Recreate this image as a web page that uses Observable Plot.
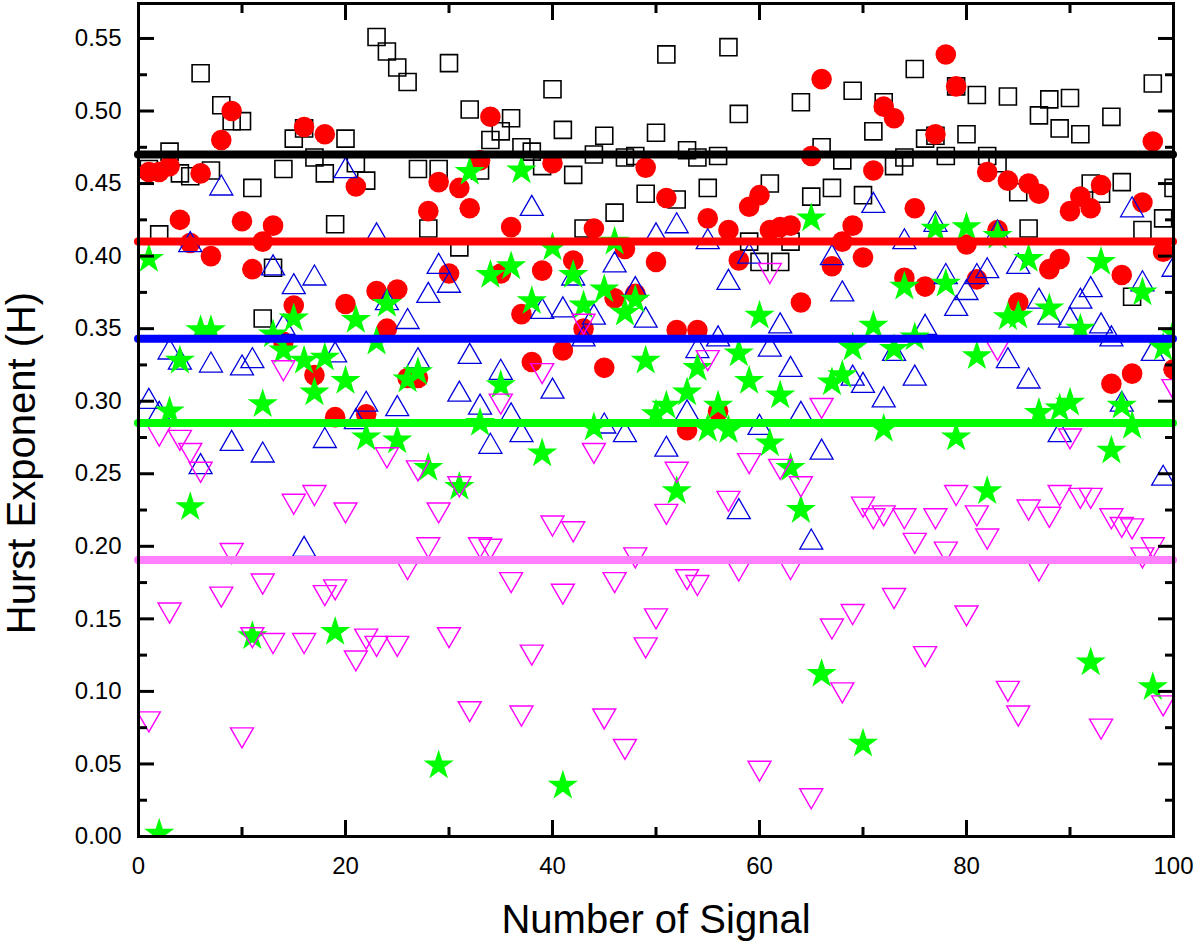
<!DOCTYPE html>
<html><head><meta charset="utf-8">
<script src="https://cdn.jsdelivr.net/npm/d3@7"></script>
<script src="https://cdn.jsdelivr.net/npm/@observablehq/plot@0.6"></script>
<style>body{margin:0;background:#fff}#chart{width:1200px;height:952px}</style>
</head><body><div id="chart"></div>
<script>
const signalIndex = d3.range(1, 101);
const squareH = [0.460,0.415,0.472,0.457,0.455,0.526,0.459,0.504,0.493,0.493,
 0.447,0.357,0.392,0.460,0.481,0.488,0.468,0.457,0.422,0.481,
 0.464,0.452,0.551,0.541,0.530,0.520,0.460,0.419,0.460,0.533,
 0.406,0.501,0.459,0.480,0.486,0.495,0.475,0.472,0.462,0.515,
 0.487,0.456,0.419,0.470,0.483,0.430,0.468,0.469,0.443,0.485,
 0.539,0.439,0.473,0.468,0.447,0.469,0.544,0.498,0.410,0.396,
 0.450,0.396,0.410,0.506,0.441,0.475,0.447,0.466,0.514,0.442,
 0.486,0.506,0.462,0.468,0.529,0.481,0.483,0.469,0.517,0.484,
 0.511,0.469,0.464,0.510,0.444,0.419,0.497,0.508,0.488,0.509,
 0.484,0.450,0.443,0.496,0.451,0.372,0.418,0.519,0.426,0.447];
const circleH = [0.458,0.458,0.462,0.425,0.409,0.457,0.400,0.480,0.500,0.424,
 0.391,0.410,0.421,0.341,0.366,0.489,0.318,0.484,0.289,0.367,
 0.448,0.291,0.376,0.350,0.377,0.316,0.316,0.431,0.451,0.388,
 0.447,0.433,0.466,0.496,0.388,0.420,0.360,0.327,0.390,0.464,
 0.335,0.397,0.350,0.419,0.323,0.371,0.405,0.374,0.461,0.396,
 0.440,0.349,0.280,0.349,0.426,0.293,0.418,0.397,0.434,0.442,
 0.418,0.420,0.421,0.368,0.469,0.522,0.393,0.410,0.421,0.399,
 0.459,0.503,0.495,0.385,0.433,0.379,0.484,0.539,0.517,0.408,
 0.384,0.458,0.418,0.452,0.368,0.450,0.443,0.391,0.398,0.431,
 0.441,0.433,0.449,0.312,0.387,0.319,0.437,0.479,0.403,0.322];
const triUpH = [0.302,0.293,0.336,0.329,0.410,0.257,0.327,0.449,0.273,0.325,
 0.330,0.265,0.394,0.353,0.381,0.200,0.387,0.275,0.334,0.461,
 0.288,0.300,0.416,0.370,0.297,0.357,0.330,0.375,0.395,0.382,
 0.307,0.333,0.298,0.271,0.322,0.292,0.279,0.435,0.364,0.309,
 0.365,0.387,0.345,0.360,0.285,0.396,0.279,0.379,0.358,0.416,
 0.269,0.423,0.294,0.337,0.412,0.345,0.384,0.226,0.402,0.284,
 0.338,0.354,0.324,0.293,0.205,0.267,0.401,0.376,0.318,0.313,
 0.437,0.303,0.335,0.412,0.318,0.353,0.424,0.388,0.366,0.377,
 0.388,0.392,0.418,0.330,0.395,0.316,0.371,0.360,0.279,0.358,
 0.371,0.379,0.354,0.345,0.300,0.434,0.383,0.335,0.249,0.393];
const starH = [0.398,0.002,0.293,0.328,0.227,0.349,0.349,null,null,null,
 0.138,0.298,0.346,0.335,0.357,0.328,0.306,0.330,0.141,0.314,
 0.356,0.275,0.341,0.367,0.273,0.315,0.320,0.254,0.049,null,
 0.241,0.458,0.285,0.387,0.311,0.393,0.459,0.369,0.264,0.406,
 0.035,0.387,0.366,0.282,0.377,0.410,0.361,0.370,0.328,0.291,
 0.297,0.238,0.306,0.323,0.281,0.297,0.280,0.333,0.314,0.359,
 0.271,0.304,0.254,0.225,0.426,0.112,0.313,0.318,0.337,0.064,
 0.352,0.281,0.336,0.379,0.344,null,0.419,0.381,0.275,0.420,
 0.331,0.238,0.414,0.358,0.359,0.398,0.292,0.364,0.295,0.299,
 0.350,0.120,0.396,0.266,0.297,0.283,0.375,0.103,0.337,0.347];
const triDownH = [0.079,0.276,0.154,0.273,0.264,0.251,null,0.165,0.195,0.068,
 0.137,0.174,0.133,0.321,0.229,0.133,0.235,0.166,0.170,0.223,
 0.121,0.136,0.131,0.261,0.131,0.184,0.252,0.199,0.223,0.137,
 0.241,0.086,0.199,0.198,0.298,0.175,0.083,0.125,0.319,0.214,
 0.167,0.210,0.353,0.264,0.081,0.175,0.060,0.192,0.130,0.150,
 0.222,0.251,0.177,0.173,0.328,null,0.231,0.183,0.257,0.045,
 0.388,0.253,0.184,0.241,0.026,0.295,0.143,0.099,0.153,0.227,
 0.219,0.221,0.164,0.219,0.202,0.124,0.219,0.196,0.235,0.152,
 0.221,0.205,0.335,0.100,0.083,0.225,0.183,0.220,0.235,0.274,
 0.233,0.233,0.074,0.219,0.213,0.212,0.192,0.199,0.090,0.308];
const meanLevels = [0.470, 0.410, 0.343, 0.285, 0.1905];
const xMajor = [0, 20, 40, 60, 80, 100];
const xMinor = [10, 30, 50, 70, 90];
const yMajor = [0, 0.05, 0.10, 0.15, 0.20, 0.25, 0.30, 0.35, 0.40, 0.45, 0.50, 0.55];
const yMinor = [0.025, 0.075, 0.125, 0.175, 0.225, 0.275, 0.325, 0.375, 0.425, 0.475, 0.525];
const yTickLabels = ["0.00","0.05","0.10","0.15","0.20","0.25","0.30","0.35","0.40","0.45","0.50","0.55"];
const xTitle = "Number of Signal";
const yTitle = "Hurst Exponent (H)";

const rows = arr => signalIndex.map((x, i) => ({x, h: arr[i]})).filter(d => d.h != null);
const triUp = {draw(ctx, size) { const w = Math.sqrt(size) * 1.526, h = w * 0.87;
  ctx.moveTo(0, -h / 2); ctx.lineTo(w / 2, h / 2); ctx.lineTo(-w / 2, h / 2); ctx.closePath(); }};
const triDown = {draw(ctx, size) { const w = Math.sqrt(size) * 1.526, h = w * 0.87;
  ctx.moveTo(0, h / 2); ctx.lineTo(w / 2, -h / 2); ctx.lineTo(-w / 2, -h / 2); ctx.closePath(); }};
const lineColors = ["#000000", "#ff0000", "#0000ff", "#00ff00", "#ff80ff"];

const tickMarks = [];
for (const a of ["bottom", "top"]) {
  tickMarks.push(Plot.axisX(xMajor, {anchor: a, tickSize: -16, strokeWidth: 3, fill: "none", label: null}));
  tickMarks.push(Plot.axisX(xMinor, {anchor: a, tickSize: -9, strokeWidth: 3, fill: "none", label: null}));
}
for (const a of ["left", "right"]) {
  tickMarks.push(Plot.axisY(yMajor, {anchor: a, tickSize: -16, strokeWidth: 3, fill: "none", label: null}));
  tickMarks.push(Plot.axisY(yMinor, {anchor: a, tickSize: -9, strokeWidth: 3, fill: "none", label: null}));
}

const chart = Plot.plot({
  width: 1200, height: 952,
  marginLeft: 138, marginRight: 27, marginTop: 3, marginBottom: 116,
  style: {fontFamily: "'Liberation Sans', Arial, sans-serif", fontSize: "24px", background: "#fff", color: "#000"},
  x: {domain: [0, 100]},
  y: {domain: [0, 0.5741]},
  marks: [
    Plot.dot(rows(squareH), {x: "x", y: "h", symbol: "square", r: 9.6, stroke: "#000", strokeWidth: 1.6, fill: "none", clip: true}),
    Plot.dot(rows(circleH), {x: "x", y: "h", symbol: "circle", r: 10.3, fill: "#ff0000", stroke: "none", clip: true}),
    Plot.dot(rows(triUpH), {x: "x", y: "h", symbol: triUp, r: 8.5, stroke: "#0000dd", strokeWidth: 1.3, fill: "none", clip: true}),
    Plot.dot(rows(starH), {x: "x", y: "h", symbol: "star", r: 9.5, fill: "#00ff00", stroke: "none", clip: true}),
    Plot.dot(rows(triDownH), {x: "x", y: "h", symbol: triDown, r: 8.5, stroke: "#ff00ff", strokeWidth: 1.4, fill: "none", clip: true}),
    ...meanLevels.map((m, i) => Plot.ruleY([m], {stroke: lineColors[i], strokeWidth: 8, strokeLinecap: "round"})),
    ...tickMarks,
    Plot.axisX(xMajor, {anchor: "bottom", tickSize: 0, tickPadding: 20, fontSize: 24, label: null, tickFormat: d => String(d)}),
    Plot.axisY(yMajor, {anchor: "left", tickSize: 0, tickPadding: 17, fontSize: 24, label: null, tickFormat: (d, i) => yTickLabels[i]}),
    Plot.frame({stroke: "#000", strokeWidth: 3}),
    Plot.text([xTitle], {text: d => d, frameAnchor: "bottom", dy: 96, lineAnchor: "bottom", textAnchor: "middle", fontSize: 40, fill: "#000"}),
    Plot.text([yTitle], {text: d => d, frameAnchor: "left", dx: -104, dy: 43, rotate: -90, lineAnchor: "bottom", textAnchor: "middle", fontSize: 40, fill: "#000"})
  ]
});
document.getElementById("chart").appendChild(chart);
</script>
</body></html>
